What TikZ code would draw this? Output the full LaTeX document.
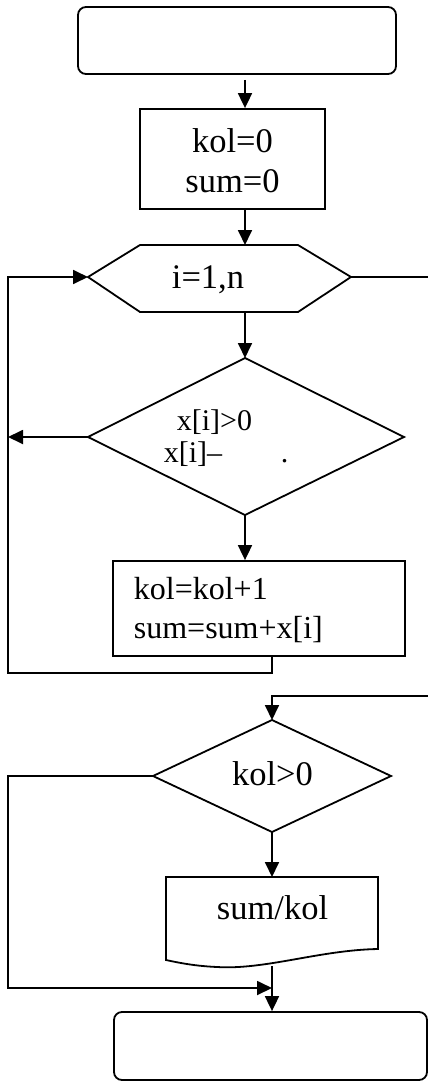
\documentclass[tikz,border=0pt]{standalone}
\usepackage{fontspec}
\setmainfont{Liberation Serif}
\usetikzlibrary{arrows.meta}
\begin{document}
\begin{tikzpicture}[x=1pt,y=-1pt,line width=1.8pt,
  arr/.style={-{Triangle[length=15pt,width=14pt]}},
  boxs/.style={draw,rectangle,inner sep=0pt},
  term/.style={boxs,rounded corners=8pt},
  Fa/.style={font=\fontsize{34.5}{40}\selectfont,inner sep=0pt},
  Fb/.style={font=\fontsize{32}{39}\selectfont,inner sep=0pt},
  Fc/.style={font=\fontsize{30}{36}\selectfont,inner sep=0pt}]
\useasboundingbox (0,0) rectangle (428,1081);
% helper coordinates
\coordinate (sp) at (245,0);
\coordinate (Lx) at (8,0);
\coordinate (Rx) at (428,0);
\coordinate (bx) at (272,0);
\coordinate (by) at (0,673);
\coordinate (ey) at (0,696);
\coordinate (jy) at (0,988);
% start terminator
\node[term,minimum width=318pt,minimum height=67pt] (start) at (237,40.5) {};
% init box
\node[boxs,minimum width=185pt,minimum height=100pt] (init) at (232.5,159) {};
\node[Fa,anchor=base] (t1) at (232.5,152) {kol=0};
\node[Fa,anchor=base] (t2) at (232.5,192) {sum=0};
\draw[arr] ([yshift=-5pt]start.south -| sp) -- (init.north -| sp);
% loop hexagon
\coordinate (hL) at (88,277);
\coordinate (hR) at (351,277);
\coordinate (hT) at (245,245);
\coordinate (hB) at (245,312);
\draw (140,245) -- (298,245) -- (hR) -- (298,312) -- (140,312) -- (hL) -- cycle;
\node[Fa,anchor=base] (loop) at (208,288) {i=1,n};
\draw[arr] (init.south -| sp) -- (hT);
\draw (hR) -- (hR -| Rx);
% decision 1
\coordinate (aT) at (245,358);
\coordinate (aL) at (88,437);
\coordinate (aR) at (404,437);
\coordinate (aB) at (245,515);
\draw (aT) -- (aR) -- (aB) -- (aL) -- cycle;
\node[Fc,anchor=base west] (c1) at (176,430) {x[i]>0};
\node[Fc,anchor=base west] (c2) at (163,462) {x[i]–};
\node[Fc,anchor=base west] (c3) at (280,462) {.};
\draw[arr] (hB) -- (aT);
\draw[arr] (aL) -- (aL -| Lx);
% body box
\node[boxs,minimum width=292pt,minimum height=95pt] (body) at (259,608.5) {};
\node[Fb,anchor=base west] (b1) at (133,599) {kol=kol+1};
\node[Fb,anchor=base west] (b2) at (133,638) {sum=sum+x[i]};
\draw[arr] (aB) -- (body.north -| aB);
\draw[arr] (body.south -| bx) -- (bx |- by) -- (Lx |- by) -- (Lx |- hL) -- (hL);
% decision 2
\coordinate (dT) at (272,720);
\coordinate (dL) at (153,776);
\coordinate (dR) at (391,776);
\coordinate (dB) at (272,832);
\draw (dT) -- (dR) -- (dB) -- (dL) -- cycle;
\node[Fa,anchor=base] (cond2) at (272.5,785) {kol>0};
\draw[arr] (Rx |- ey) -- (dT |- ey) -- (dT);
% output document
\coordinate (oT) at (272,877);
\coordinate (oB) at (272,966);
\draw (166,877) -- (378,877) -- (378,949)
  .. controls (320,950) and (265,970) .. (217,967)
  .. controls (195,966) and (180,963) .. (166,960) -- cycle;
\node[Fa,anchor=base] (out) at (272.5,919) {sum/kol};
\draw[arr] (dB) -- (oT);
% end terminator
\node[term,minimum width=313pt,minimum height=68pt] (stop) at (270.5,1046) {};
\draw[arr] (oB) -- (stop.north -| oB);
\draw[arr] (dL) -- (dL -| Lx) -- (Lx |- jy) -- (oB |- jy);
\end{tikzpicture}
\end{document}
